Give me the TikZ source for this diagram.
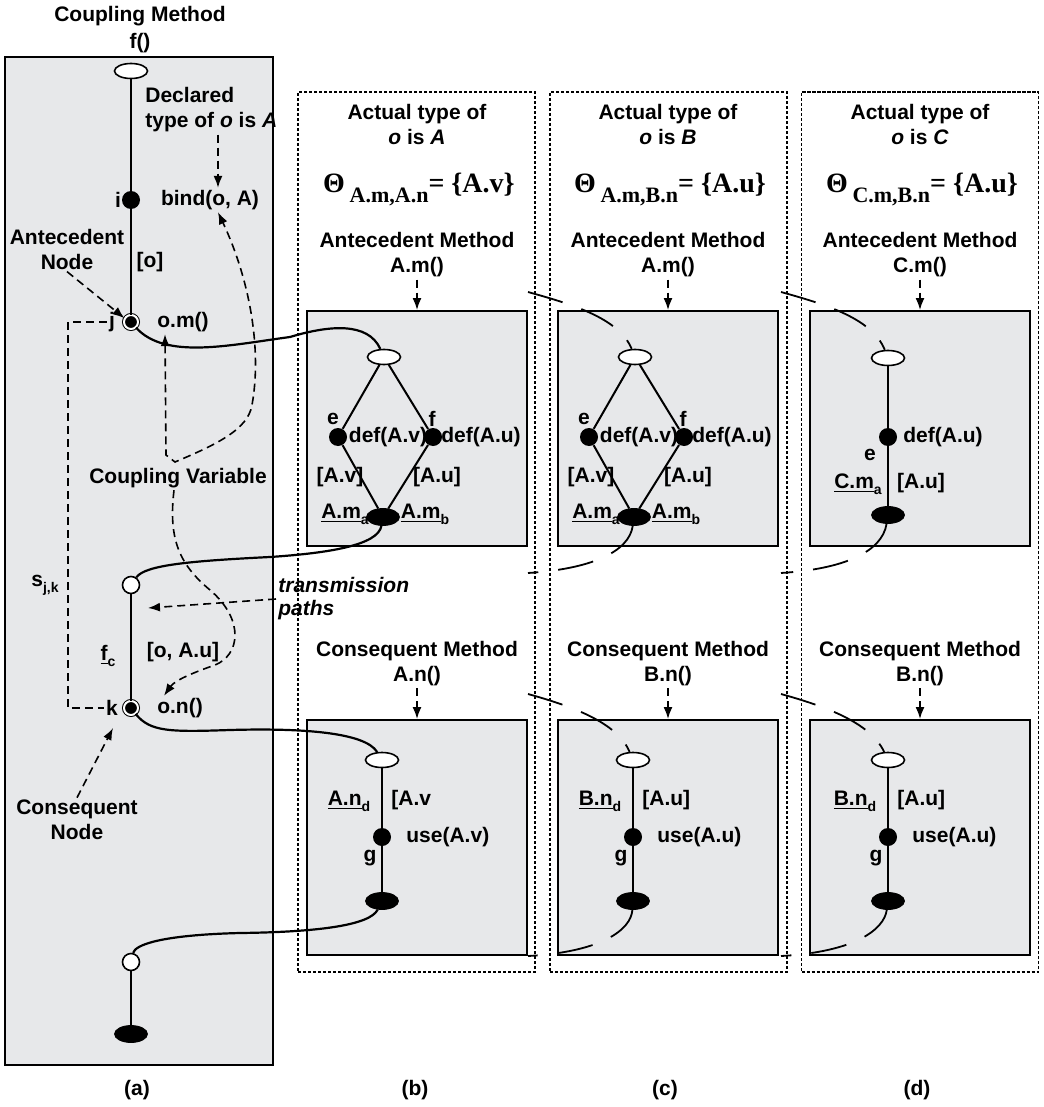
\documentclass[tikz,border=0pt]{standalone}
\usepackage{fontspec}
\setmainfont{Liberation Sans}
\newfontfamily\thetafont{Liberation Serif}
\usetikzlibrary{arrows.meta,shapes.geometric,calc}
\definecolor{panelgray}{RGB}{231,232,234}
\tikzset{
  lbl/.style={font=\bfseries\fontsize{10.5}{12.5}\selectfont,inner sep=1pt,align=center},
  entry/.style={ellipse,draw,fill=white,line width=0.8pt,minimum width=16.5pt,minimum height=7.5pt,inner sep=0pt},
  exitn/.style={ellipse,draw,fill=black,minimum width=16.5pt,minimum height=8.5pt,inner sep=0pt},
  stmt/.style={circle,fill=black,minimum size=9pt,inner sep=0pt},
  callsite/.style={circle,draw,line width=0.5pt,fill=black,double=white,double distance=1pt,minimum size=7pt,inner sep=0pt},
  retn/.style={circle,draw,fill=white,line width=0.8pt,minimum size=8.5pt,inner sep=0pt},
  methbox/.style={draw,line width=1pt,fill=panelgray,inner sep=0pt},
  typeframe/.style={draw,line width=0.6pt,dash pattern=on 1.6pt off 0.9pt,inner sep=0pt},
  cfg/.style={line width=1pt},
  flow/.style={line width=1.1pt},
  farflow/.style={line width=0.9pt,dash pattern=on 18pt off 10pt},
  dline/.style={line width=0.8pt,dash pattern=on 4pt off 2.5pt},
  darr/.style={dline,-{Latex[length=6pt,width=4.5pt]}},
}
\begin{document}
\begin{tikzpicture}[x=0.5pt,y=-0.5pt]
\useasboundingbox (0,0) rectangle (1043,1107);
% (a) coupling method
\node[methbox,minimum width=134pt,minimum height=504pt] (aBox) at (139,561) {};
\node[lbl,font=\bfseries\fontsize{10.5}{13.5}\selectfont] (title) at (140,30) {Coupling Method\\f()};

% (b)-(d) actual types
\foreach \fx/\dx/\nm/\ty/\sub/\set/\am/\cn in {416.5/0/b/A/{A.m,A.n}/A.v/A.m()/A.n(),
    668.5/251/c/B/{A.m,B.n}/A.u/A.m()/B.n(), 920/503/d/C/{C.m,B.n}/A.u/C.m()/B.n()}{
  \node[typeframe,minimum width=118.5pt,minimum height=440pt] (\nm Frame) at (\fx,532) {};
  \node[methbox,minimum width=110pt,minimum height=117.5pt] (\nm ABox) at (417+\dx,428.5) {};
  \node[methbox,minimum width=110pt,minimum height=117.5pt] (\nm CBox) at (417+\dx,837.5) {};
  \node[lbl] (\nm Type) at (417+\dx,124.5) {Actual type of\\\textit{o} is \textit{\ty}};
  \node[font=\thetafont\bfseries\fontsize{14}{15}\selectfont,inner sep=1pt] (\nm Theta) at (419+\dx,189)
    {Θ\,\raisebox{-5pt}{\fontsize{11}{12}\selectfont\sub}= \{\set\}};
  \node[lbl] (\nm Am) at (417+\dx,255) {Antecedent Method\\\am};
  \node[lbl] (\nm Cm) at (417+\dx,663.5) {Consequent Method\\\cn};
  \draw[darr] (\nm Am.south) -- (\nm Am.south |- \nm ABox.north);
  \draw[darr] (\nm Cm.south) -- (\nm Cm.south |- \nm CBox.north);
}

% labels in (a)
\node[lbl,align=left,anchor=west] (decl) at (143,110) {Declared\\type of \textit{o} is \textit{A}};
\node[lbl] (iL) at (118,200) {i};
\node[lbl] (bind) at (210,200) {bind(o, A)};
\node[lbl] (antn) at (67,249) {Antecedent\\Node};
\node[lbl] (oL) at (150,262) {[o]};
\node[lbl] (jL) at (112,322) {j};
\node[lbl] (om) at (183,322) {o.m()};
\node[lbl] (cv) at (178,478) {Coupling Variable};
\node[lbl] (sjk) at (45,585) {s\raisebox{-3pt}{\fontsize{7}{8}\selectfont j,k}};
\node[lbl,align=left,anchor=west,font=\bfseries\itshape\fontsize{10.5}{11.5}\selectfont] (tp) at (276,599) {transmission\\paths};
\node[lbl] (fc) at (108,656) {\underline{f}\raisebox{-3pt}{\fontsize{7}{8}\selectfont c}};
\node[lbl] (oau) at (183,652) {[o, A.u]};
\node[lbl] (kL) at (112,708) {k};
\node[lbl] (on) at (180,708) {o.n()};
\node[lbl] (consn) at (77,820) {Consequent\\Node};

% nodes in (a)
\node[entry] (aIn) at (131,71) {};
\node[stmt] (i) at (131,200) {};
\node[callsite] (j) at (131,322) {};
\node[retn] (aRet) at (131,585) {};
\node[callsite] (k) at (131,708) {};
\node[retn] (aRet2) at (131,962) {};
\node[exitn] (aOut) at (131,1034) {};
\draw[cfg] (aIn) -- (i) -- (j);
\draw[cfg] (aRet) -- (k);
\draw[line width=0.7pt] (aRet2) -- (aOut);

% antecedent methods (b), (c)
\foreach \dx/\nm in {0/b,251/c}{
  \node[lbl] (\nm eL) at (333+\dx,419) {e};
  \node[lbl] (\nm fL) at (432+\dx,419) {f};
  \node[lbl] (\nm eD) at (388+\dx,437) {def(A.v)};
  \node[lbl] (\nm fD) at (481+\dx,437) {def(A.u)};
  \node[lbl] (\nm eV) at (340+\dx,477) {[A.v]};
  \node[lbl] (\nm fV) at (437+\dx,477) {[A.u]};
  \node[lbl] (\nm ma) at (345+\dx,514) {\underline{A.m}\raisebox{-3pt}{\fontsize{7}{8}\selectfont a}};
  \node[lbl] (\nm mb) at (425+\dx,514) {\underline{A.m}\raisebox{-3pt}{\fontsize{7}{8}\selectfont b}};
  \node[entry] (\nm Ain) at (384+\dx,357) {};
  \node[stmt] (\nm e) at (338+\dx,437) {};
  \node[stmt] (\nm f) at (433+\dx,437) {};
  \node[exitn] (\nm Aout) at (383+\dx,517) {};
  \draw[cfg] (\nm Ain) -- (\nm e) -- (\nm Aout) -- (\nm f) -- (\nm Ain);
}
% antecedent method (d)
\node[lbl] (dD) at (943,437) {def(A.u)};
\node[lbl] (deL) at (870,455) {e};
\node[lbl] (dma) at (858,484) {\underline{C.m}\raisebox{-3pt}{\fontsize{7}{8}\selectfont a}};
\node[lbl] (dV) at (921,483) {[A.u]};
\node[entry] (dAin) at (888,358) {};
\node[stmt] (de) at (888,437) {};
\node[exitn] (dAout) at (888,515) {};
\draw[cfg] (dAin) -- (de) -- (dAout);

% consequent methods
\foreach \dx/\nm/\nd/\lab/\var in {0/b/A.n/{[A.v}/A.v, 251/c/B.n/{[A.u]}/A.u, 506/d/B.n/{[A.u]}/A.u}{
  \node[lbl] (\nm CdL) at (349+\dx,801) {\underline{\nd}\raisebox{-3pt}{\fontsize{7}{8}\selectfont d}};
  \node[lbl,anchor=west] (\nm CvL) at (389+\dx,800) {\lab};
  \node[lbl,anchor=west] (\nm CuL) at (404+\dx,837) {use(\var)};
  \node[lbl] (\nm gL) at (370+\dx,858) {g};
  \node[entry] (\nm Cin) at (382+\dx,760) {};
  \node[stmt] (\nm Cu) at (382+\dx,837) {};
  \node[exitn] (\nm Cout) at (382+\dx,901) {};
  \draw[cfg] (\nm Cin) -- (\nm Cu) -- (\nm Cout);
}

% transmission paths
\draw[flow] (j) .. controls (165,360) and (230,345) .. (290,337) .. controls (330,325) and (368,322) .. (bAin);
\draw[flow] (bAout) .. controls (378,545) and (330,553) .. (270,557) .. controls (190,561) and (145,565) .. (aRet);
\draw[flow] (k) .. controls (150,732) and (170,732) .. (230,730) .. controls (300,728) and (365,732) .. (bCin);
\draw[flow] (bCout) .. controls (370,925) and (320,932) .. (240,933) .. controls (160,935) and (135,945) .. (aRet2);
\foreach \dx/\nm in {251/c,504/d}{
  \coordinate (\nm AFrom) at (277+\dx,292);
  \coordinate (\nm ATo) at (277+\dx,573);
  \coordinate (\nm CFrom) at (277+\dx,694);
  \coordinate (\nm CTo) at (277+\dx,956);
  \draw[farflow] (\nm AFrom) .. controls (320+\dx,304) and (368+\dx,318) .. (\nm Ain);
  \draw[farflow] (\nm Aout) .. controls (378+\dx,552) and (340+\dx,569) .. (\nm ATo);
  \draw[farflow] (\nm CFrom) .. controls (320+\dx,706) and (366+\dx,722) .. (\nm Cin);
  \draw[farflow] (\nm Cout) .. controls (380+\dx,930) and (350+\dx,952) .. (\nm CTo);
}

% dashed annotations in (a)
\draw[darr] ([xshift=4pt]bind.north |- decl.south) -- ([xshift=4pt]bind.north);
\draw[darr] (antn.south) -- (j.150);
\draw[darr] (consn.north) -- ([shift={(-18,20)}]k.center);
\draw[dline] (jL.west) -| ([xshift=-18pt]kL.west) -- (kL.west);
\coordinate (tpEnd) at (148,608);
\draw[darr] (tp.west) -- (tpEnd);
\draw[dline,{Latex[length=6pt,width=4.5pt]}-{Latex[length=6pt,width=4.5pt]}] ([xshift=-9pt]om.south) -- (166,455) -- (175,462)
  .. controls (215,445) and (248,430) .. (252,405) .. controls (262,350) and (250,280) .. ([xshift=4pt]bind.south);
\draw[darr] ([xshift=-2pt]cv.south) .. controls (168,540) and (180,565) .. (210,590) .. controls (245,620) and (240,655) .. (215,665)
  .. controls (195,672) and (175,680) .. ([xshift=-8pt]on.north);

\foreach \lx/\lt in {137/a,415/b,665/c,917/d}
  \node[lbl] (cap\lt) at (\lx,1090) {(\lt)};
\end{tikzpicture}
\end{document}
